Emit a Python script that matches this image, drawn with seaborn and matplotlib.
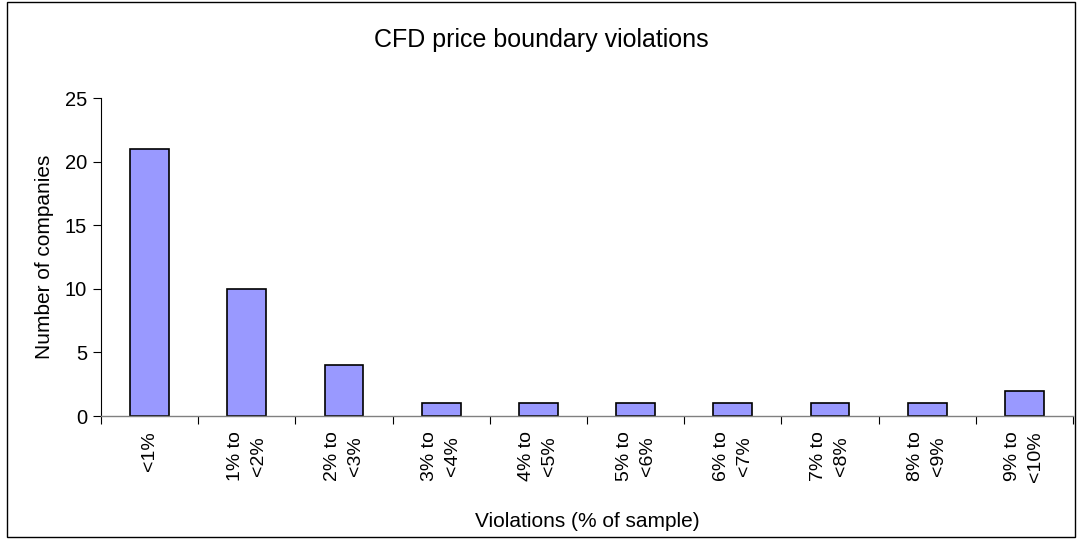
import matplotlib
matplotlib.use('Agg')
import matplotlib.pyplot as plt
import seaborn as sns
import pandas as pd
from matplotlib.patches import Rectangle

# data
categories = ['<1%', '1% to\n<2%', '2% to\n<3%', '3% to\n<4%', '4% to\n<5%',
              '5% to\n<6%', '6% to\n<7%', '7% to\n<8%', '8% to\n<9%', '9% to\n<10%']
companies = [21, 10, 4, 1, 1, 1, 1, 1, 1, 2]
y_ticks = [0, 5, 10, 15, 20, 25]

df = pd.DataFrame({'range': categories, 'count': companies})

sns.set_theme(style='white')
plt.rcParams['font.family'] = ['Liberation Sans', 'DejaVu Sans']

fig = plt.figure(figsize=(10.82, 5.39), dpi=100)
ax = fig.add_axes([101 / 1082, 1 - 416 / 539, 972 / 1082, 318 / 539])

sns.barplot(data=df, x='range', y='count', ax=ax, color='#9999FF',
            edgecolor='black', linewidth=1.2, width=0.4, saturation=1)

ax.set_xlim(-0.5, len(categories) - 0.5)
ax.set_ylim(0, 25)
ax.set_yticks(y_ticks)
ax.tick_params(axis='y', labelsize=14.5, length=6, width=0.8, direction='out',
               left=True, color='black', pad=4, labelcolor='black')
ax.set_xticks(range(len(categories)))
ax.set_xticklabels(categories, rotation=90, fontsize=14, linespacing=1.45,
                   color='black')
ax.tick_params(axis='x', length=0, pad=11)
# tick marks between categories
ax.set_xticks([i + 0.5 for i in range(-1, len(categories))], minor=True)
ax.tick_params(axis='x', which='minor', length=6, width=0.8, color='black',
               direction='out', bottom=True)

for side in ['top', 'right']:
    ax.spines[side].set_visible(False)
ax.spines['left'].set_color('black')
ax.spines['left'].set_linewidth(0.8)
ax.spines['bottom'].set_color('#808080')
ax.spines['bottom'].set_linewidth(1.0)

ax.set_xlabel('Violations (% of sample)', fontsize=15, labelpad=22, color='black')
ax.set_ylabel('Number of companies', fontsize=15, labelpad=8, color='black')

fig.text(0.5, 1 - 40 / 539, 'CFD price boundary violations', ha='center',
         va='center', fontsize=18, color='black')

fig.patches.append(Rectangle((7 / 1082, 2 / 539), 1068 / 1082, 535 / 539,
                             transform=fig.transFigure, fill=False,
                             edgecolor='black', linewidth=1.0))

fig.savefig('out.png', dpi=100)
